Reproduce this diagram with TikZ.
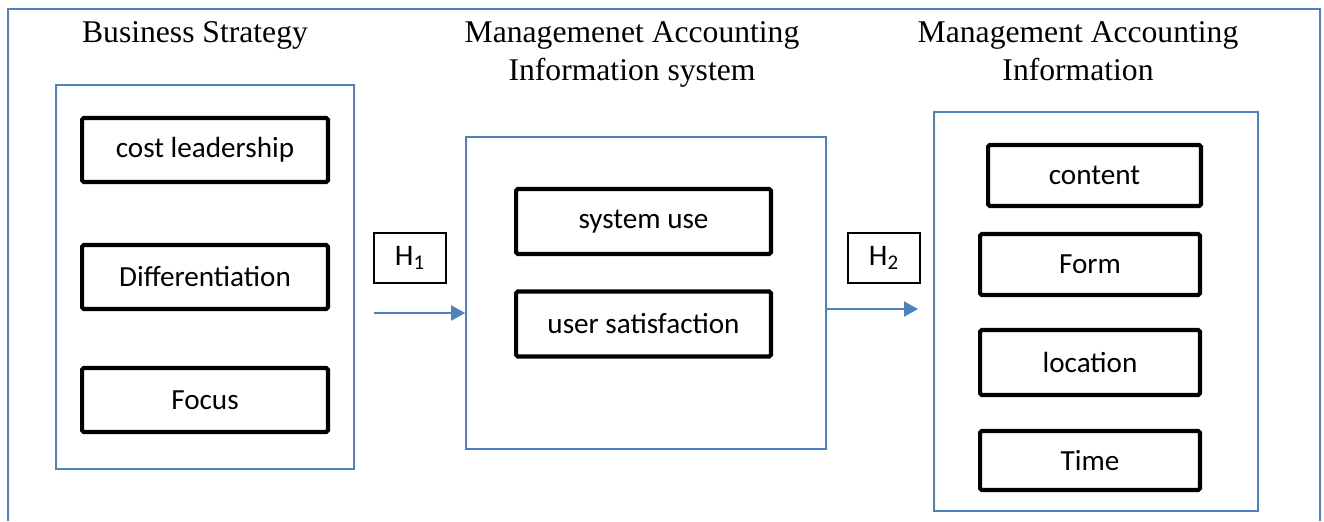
\documentclass[tikz,border=0pt]{standalone}
\usepackage{fontspec}
\setmainfont{Liberation Serif}
\newfontfamily\boxfont{Carlito}
\usetikzlibrary{arrows.meta}
\definecolor{frameblue}{RGB}{79,129,189}

\begin{document}
\begin{tikzpicture}
        [x=0.02cm,y=-0.02cm,
         group/.style={draw=frameblue,line width=1.1pt,inner sep=0},
         item/.style={draw,line width=2.3pt,rounded corners=1pt,inner sep=0,
           font=\boxfont\fontsize{16.6}{19}\selectfont},
         hyp/.style={draw,line width=0.8pt,inner sep=0,minimum width=1.44cm,
           minimum height=1cm,font=\boxfont\fontsize{17}{19}\selectfont},
         title/.style={anchor=north,align=center,inner sep=0,
           font=\fontsize{18}{21.6}\selectfont},
         link/.style={frameblue,line width=1.3pt,-{Triangle[length=0.28cm,width=0.3cm]}}]
        \useasboundingbox (0,0) rectangle (1324,521);
        \draw[frameblue,line width=1.1pt] (8,521) -- (8,9) -- (1320,9) -- (1320,521);

        % titles
        \node[title] (tstrat) at (195,21) {Business Strategy};
        \node[title] (tmais) at (632,21) {Managemenet Accounting\\Information system};
        \node[title] (tmai) at (1078,21) {Management Accounting\\Information};

        % blue groups
        \node[group,minimum width=5.96cm,minimum height=7.68cm] (strat) at (205,277) {};
        \node[group,minimum width=7.2cm,minimum height=6.24cm] (mais) at (646,293) {};
        \node[group,minimum width=6.48cm,minimum height=7.98cm] (mai) at (1096,311.5) {};

        \foreach \nm/\txt/\y in {cost/cost leadership/150,diff/Differentiation/277,focus/Focus/400}
        {\node[item,minimum width=4.92cm,minimum height=1.28cm] (\nm) at (205,\y) {\txt};}

        \node[item,minimum width=5.1cm,minimum height=1.3cm] (use) at (643.5,221.5) {system use};
        \node[item,minimum width=5.1cm,minimum height=1.3cm] (sat) at (643.5,324) {user satisfaction};

        \node[item,minimum width=4.26cm,minimum height=1.22cm] (content) at (1094.5,175.5) {content};
        \node[item,minimum width=4.4cm,minimum height=1.22cm] (form) at (1090,264.5) {Form};
        \node[item,minimum width=4.4cm,minimum height=1.3cm] (loc) at (1090,362.5) {location};
        \node[item,minimum width=4.4cm,minimum height=1.18cm] (time) at (1090,460.5) {Time};

        % hypotheses
        \node[hyp] (h1) at (410,258) {H\textsubscript{1}};
        \node[hyp] (h2) at (884,258) {H\textsubscript{2}};

        \coordinate (h1s) at (374,313);
        \coordinate (h2e) at (918,309);
        \draw[link] (h1s) -- (mais.west |- h1s);
        \draw[link] (mais.east |- h2e) -- (h2e);
\end{tikzpicture}
\end{document}
